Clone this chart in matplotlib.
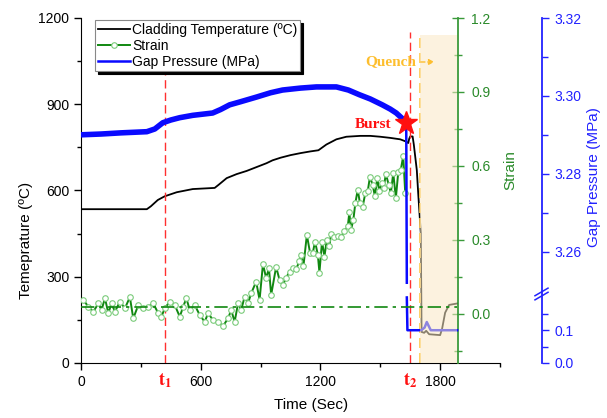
import numpy as np
import matplotlib
matplotlib.use('Agg')
import matplotlib.pyplot as plt
from matplotlib.ticker import MultipleLocator, FixedLocator, FuncFormatter
from matplotlib.patches import Rectangle
from matplotlib.lines import Line2D

plt.rcParams['font.family'] = ['Liberation Sans', 'DejaVu Sans']
plt.rcParams['mathtext.fontset'] = 'stix'

# ---------------- data ----------------
temp_time = [0, 330, 350, 385, 420, 480, 560, 670, 690, 730, 780, 830, 930, 960,
             1000, 1050, 1100, 1150, 1190, 1230, 1280, 1330, 1400, 1450, 1500,
             1550, 1600, 1630, 1640, 1645, 1650, 1662, 1668, 1683, 1690, 1703,
             1707, 1720, 1730, 1745, 1800, 1810, 1825, 1845, 1885]
temp_value = [535, 535, 545, 567, 580, 594, 605, 609, 620, 643, 657, 668, 695, 705,
              714, 723, 730, 736, 740, 760, 778, 787, 790, 790, 787,
              783, 778, 770, 765, 780, 788, 788, 760, 671, 591, 452,
              108, 105, 112, 100, 97, 120, 175, 202, 207]

strain_time = [12, 37, 62, 87, 103, 120, 137, 153, 170, 195,
               220, 245, 262, 287, 312, 337, 362, 387, 403, 420,
               445, 470, 495, 512, 528, 545, 570, 595, 620, 637,
               662, 687, 712, 737, 753, 770, 787, 803, 820, 837,
               853, 878,
               895, 912, 928, 942, 953, 978, 995, 1012, 1028, 1045,
               1062, 1078, 1095, 1103, 1115, 1132, 1148, 1162, 1173, 1187,
               1195, 1208, 1220, 1232, 1245, 1253, 1270, 1287, 1303, 1320,
               1337, 1345, 1353, 1365, 1375, 1387, 1398, 1412, 1425, 1437,
               1448, 1462, 1473, 1485, 1495, 1507, 1517, 1528, 1542, 1553,
               1565, 1578, 1590, 1603, 1615, 1625]
strain_value = [0.056, 0.028, 0.008, 0.042, 0.015, 0.063, 0.002, 0.042, 0.008, 0.049,
                0.022, 0.067, -0.019, 0.035, 0.022, 0.028, 0.042, 0.002, -0.012, 0.022,
                0.049, 0.035, -0.012, 0.028, 0.063, 0.015, 0.035, -0.005, -0.033, 0.002,
                -0.026, -0.033, -0.050, -0.019, 0.015, -0.033, 0.042, 0.015, 0.069, 0.042,
                0.083, 0.130,
                0.056, 0.202, 0.144, 0.185, 0.076, 0.190, 0.137, 0.117, 0.145, 0.171,
                0.186, 0.182, 0.212, 0.239, 0.194, 0.320, 0.247, 0.248, 0.293, 0.239,
                0.167, 0.293, 0.232, 0.300, 0.273, 0.324, 0.313, 0.316, 0.313, 0.334,
                0.354, 0.411, 0.340, 0.381, 0.449, 0.503, 0.449, 0.435, 0.490, 0.496,
                0.555, 0.523, 0.476, 0.551, 0.496, 0.530, 0.510, 0.568, 0.523, 0.490,
                0.571, 0.469, 0.574, 0.585, 0.640, 0.490]
strain_baseline = 0.028

press_time_pre = [0, 100, 200, 330, 370, 410, 450, 495, 560, 660, 700, 745, 800, 880,
                  950, 1010, 1100, 1180, 1280, 1340, 1395, 1450, 1510, 1550, 1580,
                  1610, 1630]
press_value_pre = [3.2900, 3.2902, 3.2905, 3.2908, 3.2915, 3.2931, 3.2938, 3.2944,
                   3.2950, 3.2956, 3.2965, 3.2977, 3.2985, 3.2997, 3.3008, 3.3015,
                   3.3020, 3.3023, 3.3023, 3.3015, 3.3003, 3.2992, 3.2977, 3.2966,
                   3.2956, 3.2942, 3.2931]
press_time_post = [1630, 1633, 1633, 1633, 1636, 1705, 1722, 1733, 1753, 1885]
press_value_post = [3.2931, 3.252, np.nan, 0.2, 0.1, 0.1, 0.108, 0.125, 0.1, 0.1]

t1_time, t2_time = 420, 1650
quench_time, quench_end, quench_top = 1700, 1885, 1140
burst_time, burst_pressure = 1630, 3.2931

# ---------------- figure ----------------
W, H = 607, 418
fig = plt.figure(figsize=(W / 100, H / 100), dpi=100)
ax1 = fig.add_axes([81 / W, 1 - 363 / H, 419 / W, 345 / H])
ax2 = ax1.twinx()
ax3 = ax1.twinx()
for a in (ax1, ax2, ax3):
    a.patch.set_visible(False)

# Temperature axis
ax1.plot(temp_time, temp_value, color='black', lw=1.3,
         label='Cladding Temperature (ºC)')
ax1.set_xlim(0, 2100)
ax1.set_ylim(0, 1200)
ax1.xaxis.set_major_locator(MultipleLocator(600))
ax1.xaxis.set_minor_locator(MultipleLocator(300))
ax1.yaxis.set_major_locator(MultipleLocator(300))
ax1.yaxis.set_minor_locator(MultipleLocator(150))
ax1.spines['top'].set_visible(False)
ax1.spines['right'].set_visible(False)
ax1.tick_params(which='major', direction='out', length=5, width=1, labelsize=10)
ax1.tick_params(which='minor', direction='out', length=3, width=1)
ax1.set_xlabel('Time (Sec)', fontsize=11)
ax1.set_ylabel('Temeprature (ºC)', fontsize=11)
ax1.xaxis.set_label_coords(0.549, -0.101)
ax1.yaxis.set_label_coords(-0.1146, 0.354)

# event lines
ax1.plot([t1_time, t1_time], [0, 1000], color='#ff3030', lw=1, ls=(0, (6, 3)))
ax1.plot([t2_time, t2_time], [0, 1150], color='#ff3030', lw=1, ls=(0, (6, 3)))
ax1.plot([quench_time, quench_time], [0, quench_top], color='#ffc84a', lw=1.2,
         ls=(0, (6, 3)))

# Strain axis
sg = '#3a9a3a'
ax2.plot(strain_time, strain_value, color='#118811', lw=1.4, marker='o', ms=4,
         mfc='white', mec='#7acb7a', mew=0.8, label='Strain')
ax2.set_ylim(-0.2, 1.2)
ax2.yaxis.set_major_locator(MultipleLocator(0.3))
ax2.yaxis.set_minor_locator(MultipleLocator(0.15))
ax2.yaxis.set_major_formatter(FuncFormatter(lambda v, p: f'{v:.1f}'))
for s in ('top', 'left', 'bottom'):
    ax2.spines[s].set_visible(False)
ax2.spines['right'].set_position(('axes', 0.9))
ax2.spines['right'].set_color(sg)
ax2.spines['right'].set_linewidth(1.3)
ax2.tick_params(axis='y', which='major', direction='inout', length=9, width=1,
                color=sg, labelcolor='#2a8a2a', labelsize=10, pad=5)
ax2.tick_params(axis='y', which='minor', direction='inout', length=6, width=1, color=sg)
ax2.set_ylabel('Strain', color='#2a8a2a', fontsize=11)
ax2.yaxis.set_label_coords(1.007, 0.559)

# Gap pressure axis with broken scale
LO_TOP, HI_BOT, HI_TOP = 0.2, 3.25, 3.32
U_LO, U_HI = 0.19, 0.21


def fwd(p):
    p = np.asarray(p, float)
    return np.where(p <= LO_TOP, p / LO_TOP * U_LO,
                    np.where(p >= HI_BOT,
                             U_HI + (p - HI_BOT) / (HI_TOP - HI_BOT) * (1 - U_HI),
                             U_LO + (p - LO_TOP) / (HI_BOT - LO_TOP) * (U_HI - U_LO)))


def inv(u):
    u = np.asarray(u, float)
    return np.where(u <= U_LO, u / U_LO * LO_TOP,
                    np.where(u >= U_HI,
                             HI_BOT + (u - U_HI) / (1 - U_HI) * (HI_TOP - HI_BOT),
                             LO_TOP + (u - U_LO) / (U_HI - U_LO) * (HI_BOT - LO_TOP)))


pb = '#2222ff'
ax3.set_yscale('function', functions=(fwd, inv))
ax3.plot(press_time_pre, press_value_pre, color='#0a0aff', lw=4,
         solid_capstyle='butt')
lp, = ax3.plot(press_time_post, press_value_post, color='#0a0aff', lw=1.8,
               label='Gap Pressure (MPa)')
ax3.set_ylim(0, HI_TOP)
ax3.yaxis.set_major_locator(FixedLocator([0.0, 0.1, 3.26, 3.28, 3.30, 3.32]))
ax3.yaxis.set_minor_locator(FixedLocator([0.05, 0.15, 3.27, 3.29, 3.31]))
ax3.yaxis.set_major_formatter(FuncFormatter(lambda v, p: f'{v:.1f}' if v < 1 else f'{v:.2f}'))
for s in ('top', 'left', 'bottom'):
    ax3.spines[s].set_visible(False)
ax3.spines['right'].set_position(('axes', 1.1))
ax3.spines['right'].set_color(pb)
ax3.spines['right'].set_linewidth(1.3)
ax3.tick_params(axis='y', which='major', direction='out', length=5, width=1,
                color=pb, labelcolor=pb, labelsize=10, pad=4)
ax3.tick_params(axis='y', which='minor', direction='out', length=4, width=1, color=pb)
ax3.set_ylabel('Gap Pressure (MPa)', color=pb, fontsize=11)
ax3.yaxis.set_label_coords(1.2076, 0.539)

# break marks
for dy in (0.0, 0.012):
    ax3.add_line(Line2D([1.0835, 1.1146], [0.183 + dy, 0.205 + dy],
                        transform=ax3.transAxes, color=pb, lw=1.1, clip_on=False))

# quench shading (drawn over curves)
ax3.add_patch(Rectangle((quench_time, 0), quench_end - quench_time, quench_top,
                        transform=ax1.transData, facecolor='#fae9c5', alpha=0.55,
                        edgecolor='none', zorder=5))
# strain baseline
ax3.plot([0, quench_end], [strain_baseline, strain_baseline], transform=ax2.transData,
         color='#118811', lw=1.2, ls=(0, (8, 3, 2, 3)), zorder=6)

# annotations
ax3.plot([burst_time], [burst_pressure], marker='*', ms=17, color='#ff1010',
         mec='#ff1010', zorder=7)
ax3.text(1462, 831, 'Burst', transform=ax1.transData, color='#ff1010',
         fontsize=11, fontweight='bold', family='Liberation Serif',
         ha='center', va='center', zorder=7)
ax3.text(1552, 1047, 'Quench', transform=ax1.transData, color='#fdbe2e',
         fontsize=11, fontweight='bold', family='Liberation Serif',
         ha='center', va='center', zorder=7)
ax3.annotate('', xy=(1772, 1047), xytext=(1703, 1047), xycoords=ax1.transData,
             textcoords=ax1.transData,
             arrowprops=dict(arrowstyle='-|>', color='#fdbe2e', lw=1,
                             ls=(0, (3, 2)), mutation_scale=8,
                             shrinkA=0, shrinkB=0), zorder=7)
xtr = ax1.get_xaxis_transform()
ax1.text(t1_time, -0.052, r'$\mathbf{t_1}$', transform=xtr, color='#ff1010',
         fontsize=13, ha='center', va='center')
ax1.text(t2_time, -0.052, r'$\mathbf{t_2}$', transform=xtr, color='#ff1010',
         fontsize=13, ha='center', va='center')

# legend
h1 = ax1.get_lines()[0]
h2 = ax2.get_lines()[0]
leg = ax3.legend([h1, h2, lp], [h1.get_label(), h2.get_label(), lp.get_label()],
                 loc='upper left', bbox_to_anchor=(0.033, 0.995), borderaxespad=0,
                 fontsize=10, fancybox=False, edgecolor='#888888', framealpha=1,
                 handlelength=2.3, handletextpad=0.2, labelspacing=0.15,
                 borderpad=0.2, shadow={'color': 'black', 'alpha': 1.0})
leg.set_zorder(10)
leg.get_frame().set_linewidth(0.8)

fig.savefig('out.png', dpi=100)
